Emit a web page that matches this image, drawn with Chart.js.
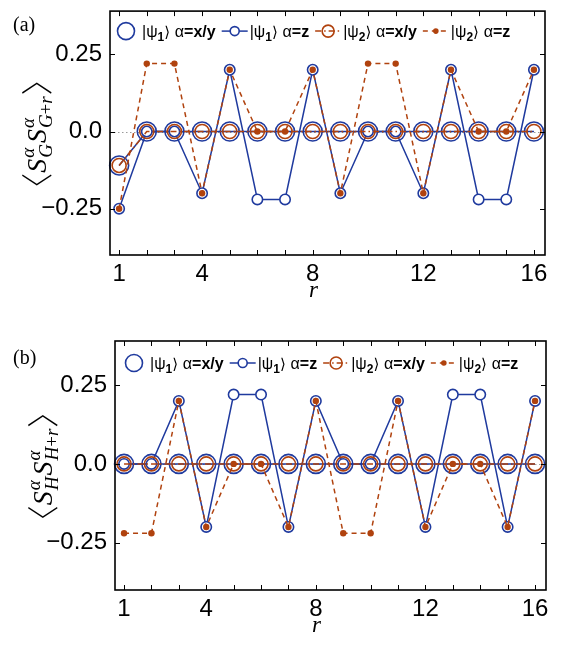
<!DOCTYPE html>
<html><head><meta charset="utf-8">
<script src="https://cdn.jsdelivr.net/npm/chart.js@4"></script>
<style>
html,body{margin:0;padding:0;background:#fff;width:568px;height:646px;overflow:hidden}
canvas{position:absolute;left:0}
</style></head><body>
<canvas id="ca" width="568" height="323" style="top:0"></canvas>
<canvas id="cb" width="568" height="323" style="top:323px"></canvas>
<script>
// ---------- data ----------
const rValues = [1,2,3,4,5,6,7,8,9,10,11,12,13,14,15,16];
const xTickLabels = [1,4,8,12,16];
const yTicks = [-0.25, 0, 0.25];
const yTickLabels = ['\u22120.25','0.0','0.25'];

// panel (a): <S_G S_G+r>
const a_psi1_xy = [-0.11,0,0,0,0,0,0,0,0,0,0,0,0,0,0,0];
const a_psi1_z  = [-0.25,0,0,-0.2,0.2,-0.22,-0.22,0.2,-0.2,0,0,-0.2,0.2,-0.22,-0.22,0.2];
const a_psi2_xy = [-0.11,0,0,0,0,0,0,0,0,0,0,0,0,0,0,0];
const a_psi2_z  = [-0.25,0.22,0.22,-0.2,0.2,0,0,0.2,-0.2,0.22,0.22,-0.2,0.2,0,0,0.2];

// panel (b): <S_H S_H+r>
const b_psi1_xy = [0,0,0,0,0,0,0,0,0,0,0,0,0,0,0,0];
const b_psi1_z  = [0,0,0.2,-0.2,0.22,0.22,-0.2,0.2,0,0,0.2,-0.2,0.22,0.22,-0.2,0.2];
const b_psi2_xy = [0,0,0,0,0,0,0,0,0,0,0,0,0,0,0,0];
const b_psi2_z  = [-0.22,-0.22,0.2,-0.2,0,0,-0.2,0.2,-0.22,-0.22,0.2,-0.2,0,0,-0.2,0.2];

const legendNames = [
  {psi:'1', alpha:'x/y'},
  {psi:'1', alpha:'z'},
  {psi:'2', alpha:'x/y'},
  {psi:'2', alpha:'z'}
];

// ---------- styles ----------
const BLUE = '#1f3a9e';
const ORANGE = '#b0420e';
const W = 568, H = 323;

function makeDatasets(p1xy, p1z, p2xy, p2z) {
  const pts = arr => arr.map((v,i)=>({x:rValues[i], y:v}));
  return [
    {data:pts(p1xy), borderColor:BLUE, borderWidth:1.5, pointRadius:9.5, pointBorderWidth:1.6,
     pointBorderColor:BLUE, pointBackgroundColor:'rgba(0,0,0,0)', order:4, clip:false, legendR:8.5},
    {data:pts(p1z), borderColor:BLUE, borderWidth:1.5, pointRadius:5.2, pointBorderWidth:1.6,
     pointBorderColor:BLUE, pointBackgroundColor:'#ffffff', order:3, clip:false, legendR:4.5},
    {data:pts(p2xy), borderColor:ORANGE, borderWidth:1.5, borderDash:[6,3,1.5,3], pointRadius:7, pointBorderWidth:1.6,
     pointBorderColor:ORANGE, pointBackgroundColor:'rgba(0,0,0,0)', order:2, clip:false, legendR:6},
    {data:pts(p2z), borderColor:ORANGE, borderWidth:1.5, borderDash:[5,4], pointRadius:3.2, pointBorderWidth:0,
     pointBorderColor:ORANGE, pointBackgroundColor:ORANGE, order:1, clip:false, legendR:2.8}
  ];
}

function drawRich(ctx, parts, x, y) {
  for (const p of parts) {
    ctx.font = p.f;
    ctx.fillText(p.t, x, y + (p.dy||0));
    x += ctx.measureText(p.t).width;
  }
  return x;
}

const SANS = '"Liberation Sans", Arial, sans-serif';
const SERIF = '"Liberation Serif", "Times New Roman", serif';

function legendParts(n) {
  return [
    {t:'|\u03c8', f:'16px '+SANS},
    {t:n.psi, f:'bold 12px '+SANS, dy:4},
    {t:'\u27e9 ', f:'15px "DejaVu Sans", '+SANS},
    {t:'\u03b1', f:'16px '+SANS},
    {t:'='+n.alpha, f:'bold 16px '+SANS}
  ];
}

const deco = {
  id:'deco',
  beforeDatasetsDraw(chart, args, o) {
    const ctx = chart.ctx, ca = chart.chartArea, ys = chart.scales.y;
    ctx.save();
    ctx.strokeStyle = '#9a9a9a'; ctx.lineWidth = 1; ctx.setLineDash([1.5,2.5]);
    const y0 = Math.round(ys.getPixelForValue(0)) + 0.5;
    ctx.beginPath(); ctx.moveTo(ca.left, y0); ctx.lineTo(ca.right, y0); ctx.stroke();
    ctx.restore();
  },
  afterDatasetsDraw(chart, args, o) {
    const ctx = chart.ctx, ca = chart.chartArea, xs = chart.scales.x, ys = chart.scales.y;
    ctx.save();
    // ticks
    ctx.strokeStyle = '#000'; ctx.lineWidth = 1; ctx.setLineDash([]);
    const tl = 5;
    ctx.beginPath();
    for (const v of rValues) {
      const px = Math.round(xs.getPixelForValue(v)) + 0.5;
      ctx.moveTo(px, ca.bottom); ctx.lineTo(px, ca.bottom - tl);
      ctx.moveTo(px, ca.top); ctx.lineTo(px, ca.top + tl);
    }
    for (const v of yTicks) {
      const py = Math.round(ys.getPixelForValue(v)) + 0.5;
      ctx.moveTo(ca.left, py); ctx.lineTo(ca.left + tl, py);
      ctx.moveTo(ca.right, py); ctx.lineTo(ca.right - tl, py);
    }
    ctx.stroke();
    // frame
    ctx.lineWidth = 1.6;
    ctx.strokeRect(ca.left, ca.top, ca.right - ca.left, ca.bottom - ca.top);

    // legend
    const ly = ca.top + o.legendDy;
    let x = ca.left + o.legendPad;
    chart.data.datasets.forEach((ds, i) => {
      const sw = (i === 0) ? 20 : 26;
      ctx.save();
      ctx.strokeStyle = ds.borderColor; ctx.lineWidth = ds.borderWidth;
      if (i > 0) {
        ctx.setLineDash(ds.borderDash || []);
        ctx.beginPath(); ctx.moveTo(x, ly); ctx.lineTo(x + sw, ly); ctx.stroke();
      }
      ctx.setLineDash([]);
      ctx.beginPath(); ctx.arc(x + sw/2, ly, ds.legendR, 0, Math.PI*2);
      ctx.fillStyle = ds.pointBackgroundColor; ctx.fill();
      if (ds.pointBorderWidth > 0) { ctx.lineWidth = ds.pointBorderWidth; ctx.stroke(); }
      ctx.restore();
      x += sw + (i === 0 ? 6 : 2);
      ctx.fillStyle = '#000'; ctx.textBaseline = 'alphabetic';
      x = drawRich(ctx, legendParts(legendNames[i]), x, ly + 6);
      x += 6;
    });

    // panel label
    ctx.fillStyle = '#000';
    ctx.font = '20px ' + SERIF;
    ctx.textAlign = 'left';
    ctx.fillText(o.panel, 13, o.panelY);

    // x title
    ctx.font = 'italic 23px ' + SERIF;
    ctx.textAlign = 'center';
    ctx.fillText('r', (ca.left + ca.right)/2 - 14, ca.bottom + 42);
    ctx.textAlign = 'left';

    // y title (rotated)
    ctx.translate(o.yTitleX, (ca.top + ca.bottom)/2 + 1);
    ctx.rotate(-Math.PI/2);
    const main = 'italic 28px ' + SERIF;
    const scr = 'italic 19px ' + SERIF;
    const scrU = '19px ' + SERIF;
    const br = '300 32px "Noto Sans CJK JP", "Noto Sans CJK SC", sans-serif';
    const L = o.letter;
    const tokens = [
      {t:'\u3008', f:br, dy:3, open:true},
      {t:'S', f:main},
      {stack:true, sup:[{t:'\u03b1', f:scr}], sub:[{t:L, f:scr}]},
      {t:'S', f:main},
      {stack:true, sup:[{t:'\u03b1', f:scr}], sub:[{t:L, f:scr},{t:'+', f:scrU},{t:'r', f:scr}]},
      {t:'\u3009', f:br, dy:3, close:true}
    ];
    const wOf = arr => arr.reduce((s,p)=>{ctx.font=p.f; return s + ctx.measureText(p.t).width;},0);
    let total = 0;
    for (const tk of tokens) {
      if (tk.stack) { tk.w = Math.max(wOf(tk.sup), wOf(tk.sub)) + 2; }
      else { ctx.font = tk.f; tk.w = ctx.measureText(tk.t).width; if (tk.open || tk.close) tk.w *= 0.5; }
      total += tk.w;
    }
    let tx = -total/2;
    const base = 10;
    for (const tk of tokens) {
      if (tk.stack) {
        drawRich(ctx, tk.sup.map(p=>({...p, dy:-12})), tx + 1, base);
        drawRich(ctx, tk.sub.map(p=>({...p, dy:6})), tx + 1, base);
      } else {
        ctx.font = tk.f;
        ctx.fillText(tk.t, tk.open ? tx - tk.w : tx, base + (tk.dy||0));
      }
      tx += tk.w;
    }
    ctx.restore();
  }
};

function makeChart(id, datasets, lay, decoOpts) {
  return new Chart(document.getElementById(id), {
    type:'line',
    data:{datasets},
    plugins:[deco],
    options:{
      responsive:false, animation:false, devicePixelRatio:1,
      layout:{padding:{left:0, top:lay.top, right:W - lay.right, bottom:0}},
      plugins:{legend:{display:false}, tooltip:{enabled:false}, deco:decoOpts},
      scales:{
        x:{type:'linear', min:0.67, max:16.4,
           grid:{display:false, drawTicks:false}, border:{display:false},
           afterBuildTicks:s=>{ s.ticks = rValues.map(v=>({value:v})); },
           afterFit:s=>{ s.height = H - lay.bottom; s.paddingLeft = 0; s.paddingRight = 0; },
           ticks:{autoSkip:false, maxRotation:0, padding:5, color:'#000',
                  font:{family:'"Liberation Sans", Arial, sans-serif', size:24},
                  callback:v=> xTickLabels.includes(v) ? String(v) : ''}},
        y:{type:'linear', min:-0.4, max:0.39,
           grid:{display:false, drawTicks:false}, border:{display:false},
           afterBuildTicks:s=>{ s.ticks = yTicks.map(v=>({value:v})); },
           afterFit:s=>{ s.width = lay.left; s.paddingTop = 0; s.paddingBottom = 0; },
           ticks:{padding:8, color:'#000',
                  font:{family:'"Liberation Sans", Arial, sans-serif', size:24},
                  callback:v=> yTickLabels[yTicks.indexOf(v)]}}
      }
    }
  });
}

makeChart('ca', makeDatasets(a_psi1_xy, a_psi1_z, a_psi2_xy, a_psi2_z),
  {left:110, right:545, top:2, bottom:255},
  {panel:'(a)', panelY:31, letter:'G', yTitleX:36, legendDy:20, legendPad:6});
makeChart('cb', makeDatasets(b_psi1_xy, b_psi1_z, b_psi2_xy, b_psi2_z),
  {left:115, right:546, top:18, bottom:267},
  {panel:'(b)', panelY:41, letter:'H', yTitleX:42, legendDy:22, legendPad:9});
</script>
</body></html>
